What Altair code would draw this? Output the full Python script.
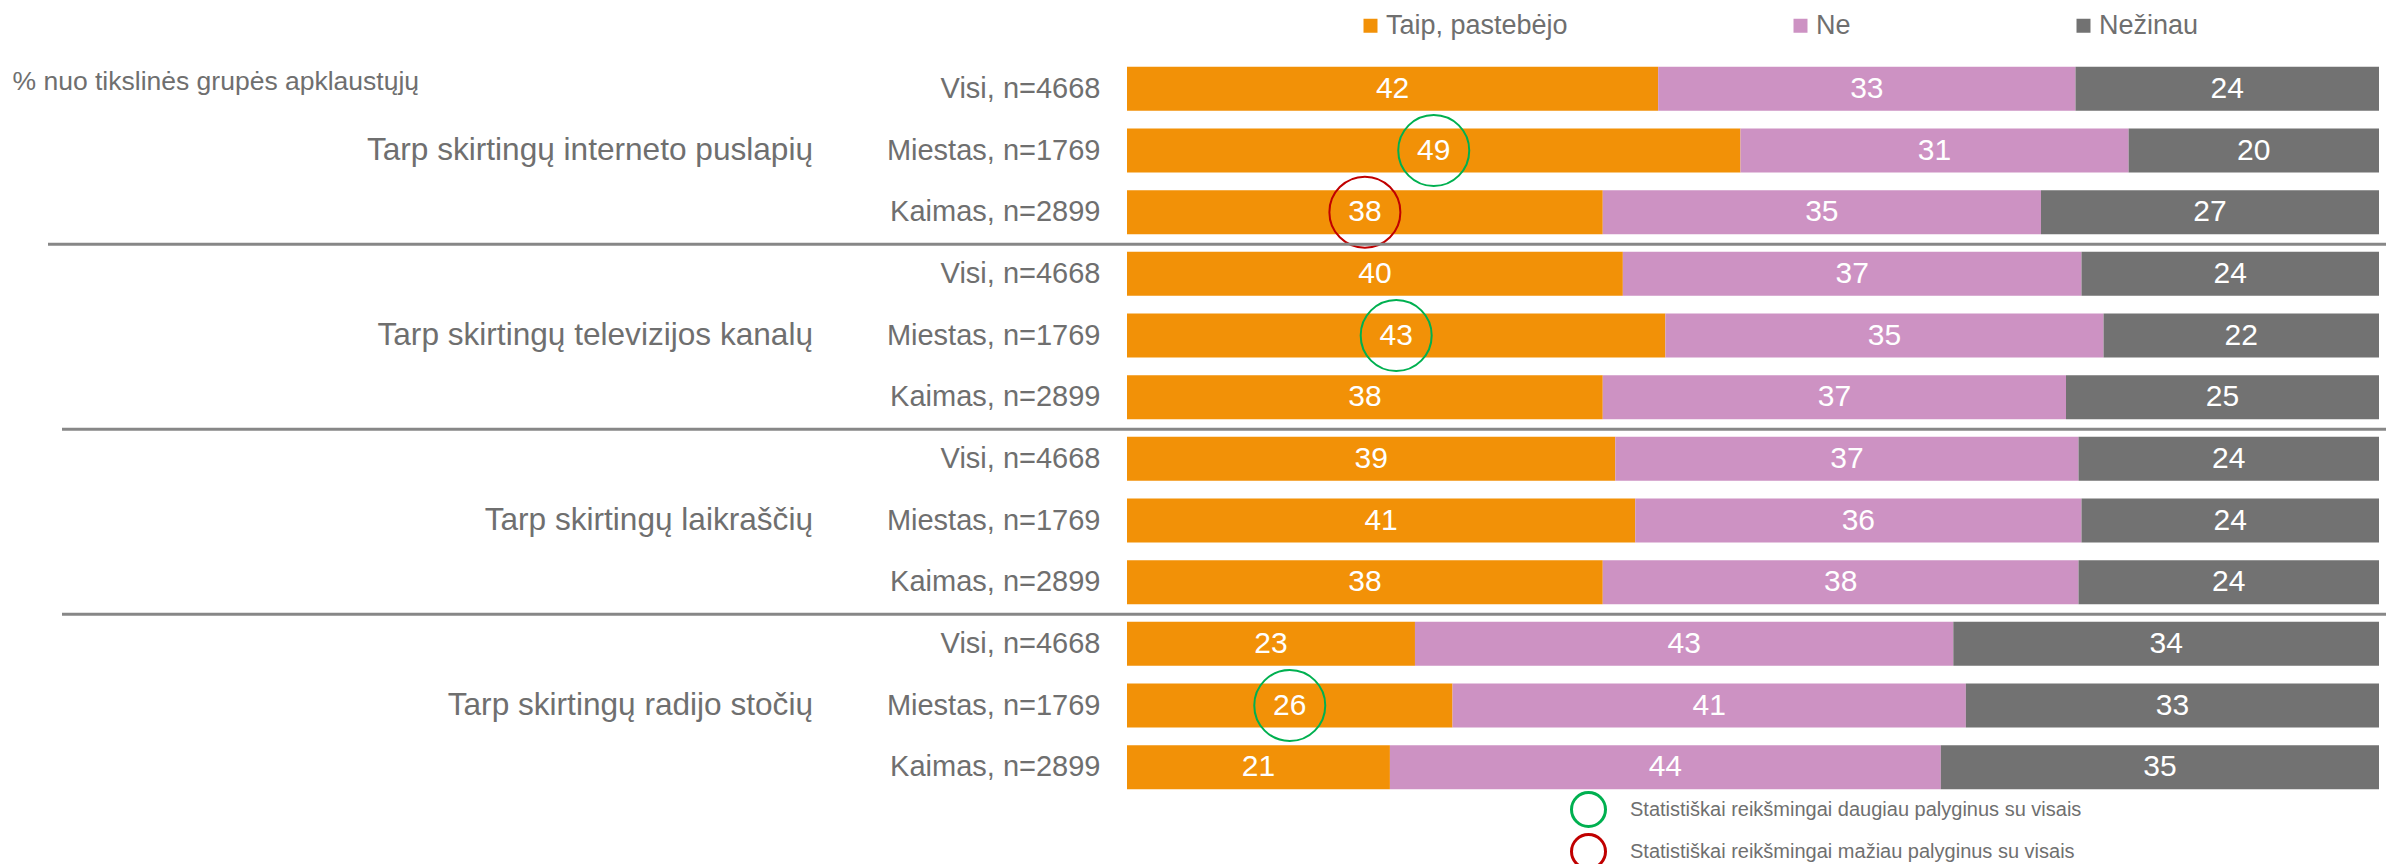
import altair as alt
import pandas as pd

FONT = "Liberation Sans"
GREY = "#6f6f6f"

groups = ["Tarp skirtingų interneto puslapių", "Tarp skirtingų televizijos kanalų",
          "Tarp skirtingų laikraščių", "Tarp skirtingų radijo stočių"]
subgroups = ["Visi, n=4668", "Miestas, n=1769", "Kaimas, n=2899"]
categories = ["Taip, pastebėjo", "Ne", "Nežinau"]
cat_colors = ["#F29107", "#CD92C3", "#727272"]

taip = [42, 49, 38, 40, 43, 38, 39, 41, 38, 23, 26, 21]
ne = [33, 31, 35, 37, 35, 37, 37, 36, 38, 43, 41, 44]
nezinau = [24, 20, 27, 24, 22, 25, 24, 24, 24, 34, 33, 35]
# significance of the "Taip" share vs. all respondents
significance = [None, "up", "down", None, "up", None, None, None, None, None, "up", None]
sig_names = ["Statistiškai reikšmingai daugiau palyginus su visais",
             "Statistiškai reikšmingai mažiau palyginus su visais"]
sig_colors = ["#00B050", "#C00000"]
subtitle = "% nuo tikslinės grupės apklaustųjų"

rid_order = []
records = []
for gi, g in enumerate(groups):
    for si, s in enumerate(subgroups):
        idx = gi * 3 + si
        rid = f"{gi}{si}|{s}"
        rid_order.append(rid)
        for ci, (cat, vals) in enumerate(zip(categories, [taip, ne, nezinau])):
            sg = significance[idx]
            sig = None
            if ci == 0 and sg is not None:
                sig = sig_names[0] if sg == "up" else sig_names[1]
            records.append(dict(rid=rid, cat=cat, order=ci, value=vals[idx], sig=sig))
df = pd.DataFrame(records)

gdf = pd.DataFrame({"group": groups, "rid": [rid_order[g * 3 + 1] for g in range(4)]})
sep1 = pd.DataFrame({"rid": [rid_order[2]]})
sep2 = pd.DataFrame({"rid": [rid_order[5], rid_order[8]]})

xs = alt.Scale(domain=[0, 1], nice=False, zero=True)
ys = alt.Scale(paddingInner=0.287, paddingOuter=0.1435)
y_axis = alt.Axis(domain=False, ticks=False, grid=False, labelFontSize=29, labelFont=FONT,
                  labelColor=GREY, labelPadding=27, labelLimit=0,
                  labelExpr="split(datum.label, '|')[1]",
                  title=subtitle, titleAngle=0, titleAlign="left", titleBaseline="middle",
                  titleX=-1115, titleY=23, titleFont=FONT, titleFontSize=26.5,
                  titleFontWeight="normal", titleColor=GREY, titleLimit=0)


def Y(**kw):
    return alt.Y("rid:N", sort=rid_order, scale=ys, axis=y_axis, **kw)


base = (alt.Chart(df)
        .transform_joinaggregate(total="sum(value)", groupby=["rid"])
        .transform_calculate(pct="datum.value / datum.total")
        .transform_stack(stack="pct", groupby=["rid"], as_=["x0", "x1"],
                         sort=[alt.SortField("order", "ascending")])
        .transform_calculate(mid="(datum.x0 + datum.x1) / 2"))

bars = base.mark_bar().encode(
    x=alt.X("x0:Q", scale=xs, axis=None),
    x2="x1:Q",
    y=Y(),
    color=alt.Color("cat:N", scale=alt.Scale(domain=categories, range=cat_colors),
                    legend=alt.Legend(title=None, orient="none", direction="horizontal",
                                      legendX=230, legendY=-46, symbolType="square",
                                      symbolSize=196, symbolStrokeWidth=0,
                                      labelFontSize=27, labelFont=FONT, labelColor=GREY,
                                      labelOffset=2, columnPadding=219, labelLimit=0)),
)

labels = base.mark_text(color="white", fontSize=30, font=FONT, align="center",
                        baseline="middle").encode(
    x=alt.X("mid:Q", scale=xs, axis=None),
    y=Y(),
    text="value:Q",
)

circles = base.transform_filter("isValid(datum.sig)").mark_point(
    shape="circle", filled=False, size=5041, strokeWidth=2, opacity=1).encode(
    x=alt.X("mid:Q", scale=xs, axis=None),
    y=Y(),
    stroke=alt.Stroke("sig:N", scale=alt.Scale(domain=sig_names, range=sig_colors),
                      legend=alt.Legend(title=None, orient="none", legendX=443, legendY=733,
                                        symbolType="circle", symbolSize=1156,
                                        symbolStrokeWidth=3, symbolFillColor="transparent",
                                        labelFontSize=20, labelFont=FONT, labelColor=GREY,
                                        labelOffset=23, rowPadding=-16, labelLimit=0)),
)

group_text = alt.Chart(gdf).mark_text(align="right", baseline="middle", fontSize=31.6,
                                      font=FONT, color=GREY).encode(
    y=Y(),
    x=alt.value(-314),
    text="group:N",
)

rule1 = alt.Chart(sep1).mark_rule(color="#878787", strokeWidth=3, yOffset=10).encode(
    y=Y(bandPosition=1), x=alt.value(-1079), x2=alt.value(1259))
rule2 = alt.Chart(sep2).mark_rule(color="#878787", strokeWidth=3, yOffset=10).encode(
    y=Y(bandPosition=1), x=alt.value(-1065), x2=alt.value(1259))

chart = alt.layer(bars, labels, circles, group_text, rule1, rule2).properties(
    width=1252, height=740,
    autosize=alt.AutoSizeParams(type="none"),
    padding={"left": 1119, "top": 50, "right": 13, "bottom": 66},
).configure_view(stroke=None)

chart.save("out.html", embed_options={"renderer": "svg", "actions": False})
